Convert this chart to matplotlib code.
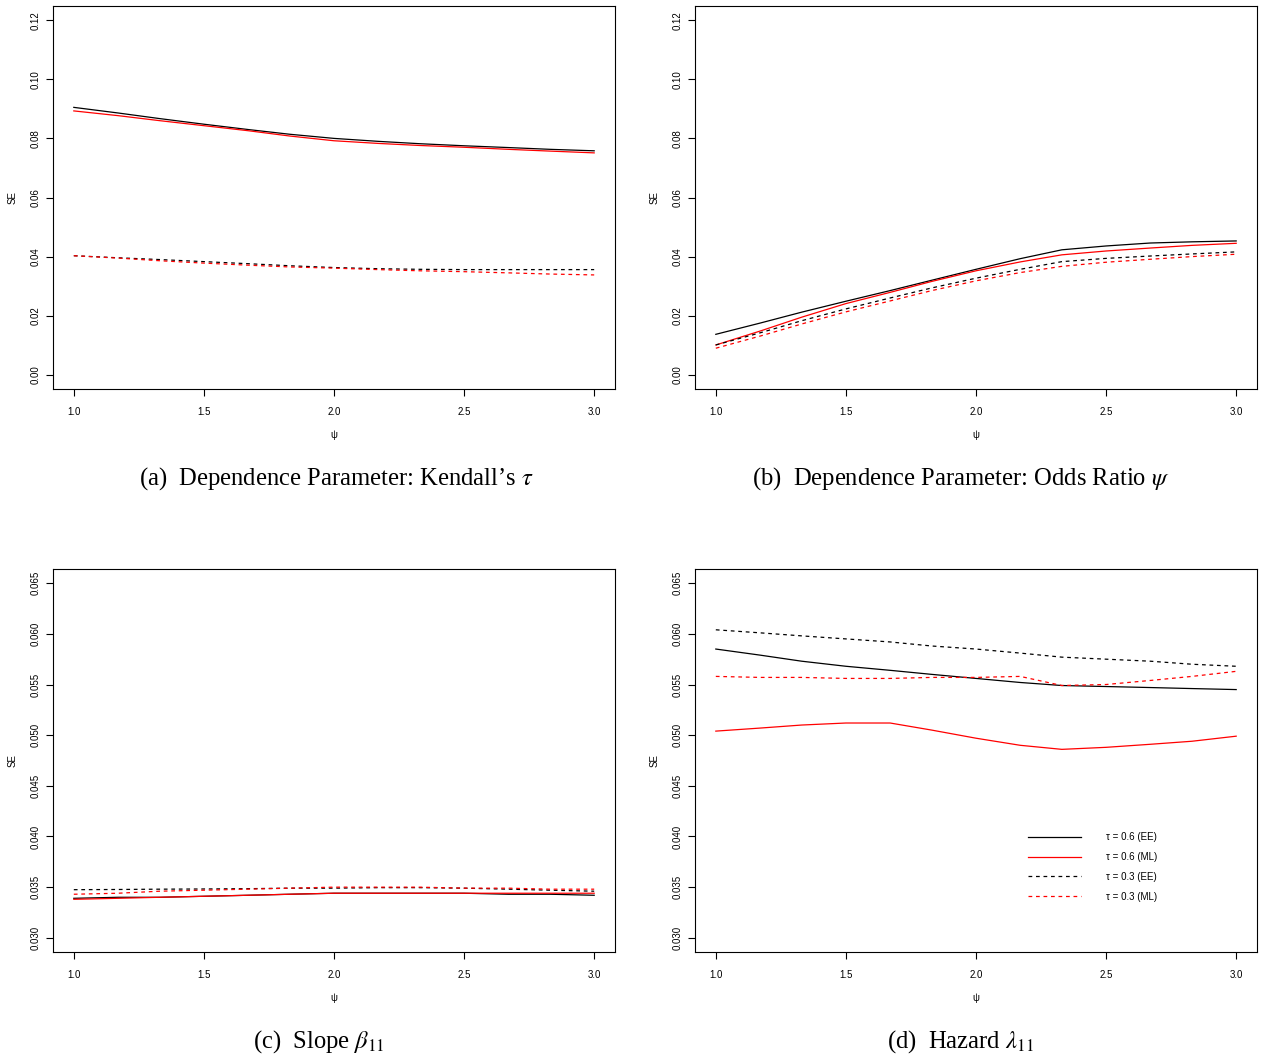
import matplotlib
matplotlib.use("Agg")
import matplotlib.pyplot as plt

plt.rcParams["font.family"] = ["Liberation Sans", "DejaVu Sans"]
plt.rcParams["mathtext.fontset"] = "stix"

W, H = 1261, 1059

# shared x grid (odds ratio psi)
psi = [1.0, 1.17, 1.33, 1.5, 1.67, 1.83, 2.0, 2.17, 2.33, 2.5, 2.67, 2.83, 3.0]

# (a) Kendall's tau
a_ee6 = [0.0905, 0.0886, 0.0867, 0.0848, 0.0830, 0.0814, 0.0800, 0.0790, 0.0782, 0.0775, 0.0769, 0.0763, 0.0758]
a_ml6 = [0.0893, 0.0877, 0.0860, 0.0843, 0.0826, 0.0808, 0.0792, 0.0783, 0.0776, 0.0770, 0.0763, 0.0757, 0.0751]
a_ee3 = [0.0403, 0.0396, 0.0390, 0.0383, 0.0376, 0.0369, 0.0363, 0.0359, 0.0357, 0.0356, 0.0356, 0.0356, 0.0356]
a_ml3 = [0.0403, 0.0395, 0.0386, 0.0378, 0.0371, 0.0365, 0.0361, 0.0356, 0.0352, 0.0349, 0.0345, 0.0341, 0.0338]

# (b) odds ratio psi
b_ee6 = [0.0137, 0.0175, 0.0212, 0.0249, 0.0285, 0.0320, 0.0357, 0.0393, 0.0423, 0.0436, 0.0446, 0.0450, 0.0453]
b_ml6 = [0.0101, 0.0148, 0.0195, 0.0241, 0.0279, 0.0316, 0.0352, 0.0382, 0.0406, 0.0419, 0.0429, 0.0438, 0.0445]
b_ee3 = [0.0101, 0.0142, 0.0183, 0.0223, 0.0260, 0.0294, 0.0327, 0.0357, 0.0383, 0.0394, 0.0402, 0.0409, 0.0416]
b_ml3 = [0.0090, 0.0131, 0.0172, 0.0213, 0.0250, 0.0285, 0.0318, 0.0346, 0.0367, 0.0381, 0.0391, 0.0400, 0.0408]

# (c) slope beta_11
c_ee6 = [0.0339, 0.0340, 0.0340, 0.0341, 0.0342, 0.0343, 0.0344, 0.0344, 0.0344, 0.0344, 0.0343, 0.0343, 0.0342]
c_ml6 = [0.0338, 0.0339, 0.0340, 0.0341, 0.0342, 0.0343, 0.0344, 0.0344, 0.0344, 0.0344, 0.0344, 0.0344, 0.0344]
c_ee3 = [0.03475, 0.03477, 0.0348, 0.03482, 0.03485, 0.0349, 0.0349, 0.03495, 0.03495, 0.0349, 0.0348, 0.0347, 0.0346]
c_ml3 = [0.0343, 0.0344, 0.0346, 0.0347, 0.0348, 0.0349, 0.0350, 0.0350, 0.0350, 0.0349, 0.0349, 0.0348, 0.0348]

# (d) hazard lambda_11
d_ee6 = [0.0585, 0.0579, 0.0573, 0.0568, 0.0564, 0.0560, 0.0556, 0.0552, 0.0549, 0.0548, 0.0547, 0.0546, 0.0545]
d_ml6 = [0.0504, 0.0507, 0.0510, 0.0512, 0.0512, 0.0505, 0.0497, 0.0490, 0.0486, 0.0488, 0.0491, 0.0494, 0.0499]
d_ee3 = [0.0604, 0.0601, 0.0598, 0.0595, 0.0592, 0.0588, 0.0585, 0.0581, 0.0577, 0.0575, 0.0573, 0.0570, 0.0568]
d_ml3 = [0.0558, 0.0557, 0.0557, 0.0556, 0.0556, 0.0557, 0.0557, 0.0558, 0.0549, 0.0550, 0.0554, 0.0558, 0.0563]

labels = ["τ = 0.6 (EE)", "τ = 0.6 (ML)", "τ = 0.3 (EE)", "τ = 0.3 (ML)"]
xticks = [1.0, 1.5, 2.0, 2.5, 3.0]
yticks_top = [0.00, 0.02, 0.04, 0.06, 0.08, 0.10, 0.12]
yticks_bot = [0.030, 0.035, 0.040, 0.045, 0.050, 0.055, 0.060, 0.065]

captions = [
    r"(a)  Dependence Parameter: Kendall’s $\tau$",
    r"(b)  Dependence Parameter: Odds Ratio $\psi$",
    r"(c)  Slope $\beta_{11}$",
    r"(d)  Hazard $\lambda_{11}$",
]

fig = plt.figure(figsize=(W / 100, H / 100), dpi=100)


def add_panel(left, top, right, bottom):
    return fig.add_axes([left / W, 1 - bottom / H, (right - left) / W, (bottom - top) / H])


def r_style(ax, yticks, fmt):
    lo, hi = yticks[0], yticks[-1]
    pad = (hi - lo) * 0.04
    ax.set_ylim(lo - pad, hi + pad)
    ax.set_xlim(0.92, 3.08)
    ax.set_xticks(xticks)
    ax.set_xticklabels([f"{v:.1f}" for v in xticks])
    ax.set_yticks(yticks)
    ax.set_yticklabels([fmt.format(v) for v in yticks], rotation=90, va="center")
    ax.tick_params(length=5, width=0.8, labelsize=7, pad=4, color="black")
    ax.tick_params(axis="x", pad=8)
    for s in ax.spines.values():
        s.set_linewidth(0.8)
    ax.set_xlabel("ψ", fontsize=7, labelpad=9)
    ax.set_ylabel("SE", fontsize=7, labelpad=9)


def draw(ax, ee6, ml6, ee3, ml3):
    dash = (0, (3, 3))
    ax.plot(psi, ee6, color="black", lw=0.9)
    ax.plot(psi, ml6, color="red", lw=0.9)
    ax.plot(psi, ee3, color="black", lw=0.9, ls=dash)
    ax.plot(psi, ml3, color="red", lw=0.9, ls=dash)


ax_a = add_panel(53, 6, 615, 389)
draw(ax_a, a_ee6, a_ml6, a_ee3, a_ml3)
r_style(ax_a, yticks_top, "{:.2f}")

ax_b = add_panel(695, 6, 1257, 389)
draw(ax_b, b_ee6, b_ml6, b_ee3, b_ml3)
r_style(ax_b, yticks_top, "{:.2f}")

ax_c = add_panel(53, 569, 615, 952)
draw(ax_c, c_ee6, c_ml6, c_ee3, c_ml3)
r_style(ax_c, yticks_bot, "{:.3f}")

ax_d = add_panel(695, 569, 1257, 952)
draw(ax_d, d_ee6, d_ml6, d_ee3, d_ml3)
r_style(ax_d, yticks_bot, "{:.3f}")
ax_d.legend(ax_d.get_lines(), labels, loc="upper left", frameon=False,
            bbox_to_anchor=((1028 - 695) / 562, (952 - 832) / 383),
            borderaxespad=0, borderpad=0, fontsize=7, handlelength=5.4,
            handletextpad=2.6, labelspacing=1.02)

cap_pos = [(336, 479), (961, 479), (319, 1042), (960, 1042)]
for (cx, cy), txt in zip(cap_pos, captions):
    fig.text(cx / W, 1 - cy / H, txt, ha="center", va="center",
             fontsize=17.7, family="Liberation Serif")

fig.savefig("out.png", dpi=100)
